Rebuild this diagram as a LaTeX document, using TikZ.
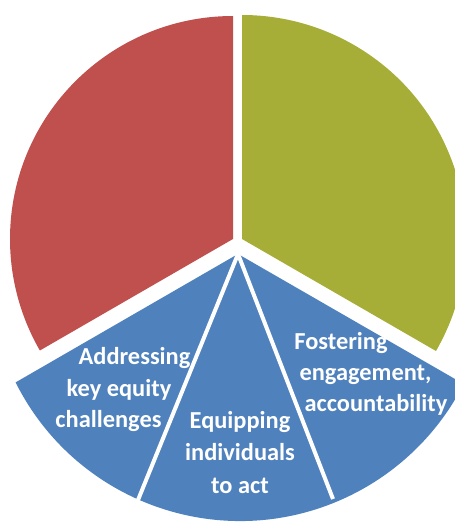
\documentclass[tikz,border=0pt]{standalone}
\usepackage{fontspec}
\setmainfont{Carlito}
\definecolor{pred}{RGB}{192,80,77}
\definecolor{pgreen}{RGB}{166,174,56}
\definecolor{pblue}{RGB}{79,129,189}
\tikzset{
  lbl/.style={text=white, font=\fontsize{24.4}{31}\selectfont\bfseries, anchor=base, inner sep=0pt},
  divider/.style={draw=white, line width=4pt},
}
\begin{document}
\begin{tikzpicture}[x=1pt,y=1pt]
\useasboundingbox (0,0) rectangle (455,523);
\clip (0,0) rectangle (455,523);
% sectors
\coordinate (cr) at (233,284);
\coordinate (cg) at (242,284);
\coordinate (cb) at (238,269);
\fill[pred] (cr) -- ++(90:223) arc[start angle=90, end angle=210, radius=223] -- cycle;
\fill[pgreen] (cg) -- ++(-30:224) arc[start angle=-30, end angle=90, radius=224] -- cycle;
\fill[pblue] (cb) -- (15.6,140.6) arc[start angle=206.6, end angle=333.0, radius=251] -- cycle;
% dividers
\coordinate (dl) at (138,23);
\coordinate (dr) at (333,24);
\draw[divider] (cb) -- (dl);
\draw[divider] (cb) -- (dr);
% labels
\node[lbl] (a1) at (134.5,158) {Addressing};
\node[lbl] (a2) at (119,126) {key equity};
\node[lbl] (a3) at (108.5,95) {challenges};
\node[lbl] (e1) at (240,94) {Equipping};
\node[lbl] (e2) at (240,62) {individuals};
\node[lbl] (e3) at (240,30) {to act};
\node[lbl] (f1) at (341,173) {Fostering};
\node[lbl] (f2) at (365.5,142) {engagement,};
\node[lbl] (f3) at (376,111) {accountability};
\end{tikzpicture}
\end{document}
